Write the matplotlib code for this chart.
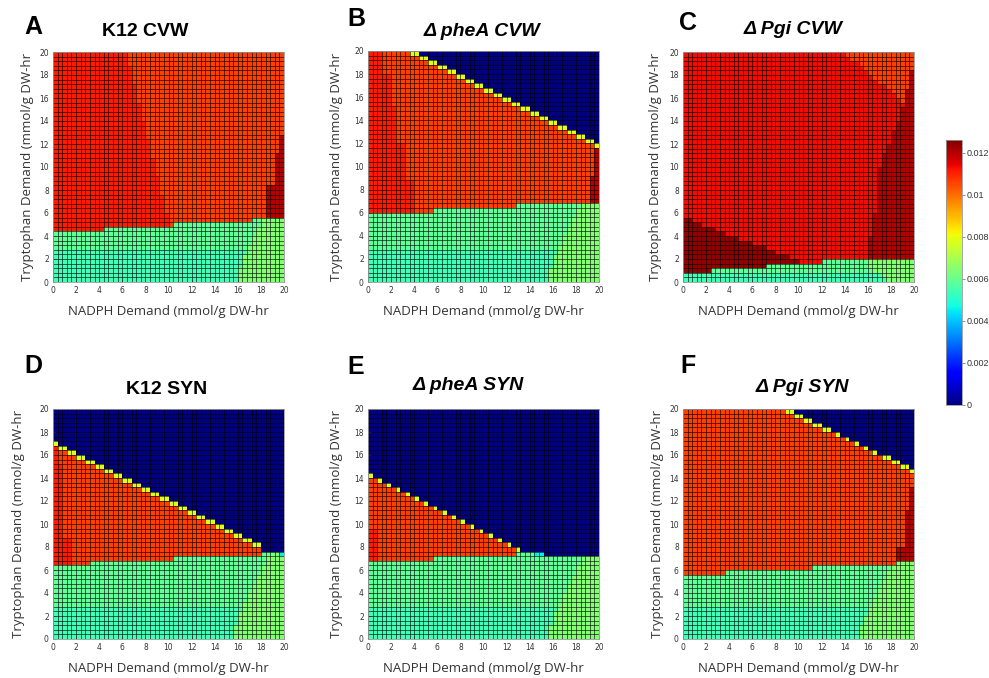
import numpy as np
import matplotlib.pyplot as plt
from matplotlib import cm, colors

W, H = 989, 678
N = 50          # 50 x 50 cells over 0..20
VMAX = 0.0126

# colour levels, read against the colour bar
BLUE = 0.0
CYAN = 0.0045
AQUA = 0.0054
GREEN = 0.0059
LIME = 0.0064
YELLOW = 0.0078
ORANGE = 0.0106
LEFT = 0.0111
RED = 0.0113
MAROON = 0.0120
DARKEST = 0.0124

titles = ['K12 CVW', '\u0394 pheA CVW', '\u0394 Pgi CVW',
          'K12 SYN', '\u0394 pheA SYN', '\u0394 Pgi SYN']
letters = ['A', 'B', 'C', 'D', 'E', 'F']

# ---- panel A : K12 CVW
A_green = [(0, 11), (11, 12), (26, 13), (43, 14)]     # (first column, green rows)
A_top = [50] * 50                                     # filled rows per column
A_tips = []                                           # columns with a yellow top cell
A_base = ORANGE
A_zones = [(0, 15, 47, 49, LEFT), (0, 16, 43, 46, LEFT), (0, 17, 39, 42, LEFT),
           (0, 18, 35, 38, LEFT), (0, 19, 31, 34, LEFT), (0, 20, 27, 30, LEFT),
           (0, 21, 23, 26, LEFT), (0, 22, 19, 22, LEFT), (0, 23, 15, 18, LEFT),
           (0, 24, 11, 14, LEFT),
           (46, 47, 14, 20, MAROON), (48, 48, 14, 27, MAROON), (49, 49, 14, 31, MAROON)]
A_wedge = [40, 40, 40, 41, 41, 41, 42, 42, 43, 43, 44, 44, 45, 45]
A_aqua = 7
A_cells = []

# ---- panel B : dpheA CVW
B_green = [(0, 15), (14, 16), (32, 17)]
B_top = [50, 50, 50, 50, 50, 50, 50, 50, 50, 50, 50, 49, 49, 48, 48, 47, 47, 46, 46,
         45, 45, 44, 44, 43, 43, 42, 42, 41, 41, 40, 40, 39, 39, 38, 38, 37, 37,
         36, 36, 35, 35, 34, 34, 33, 33, 32, 32, 31, 31, 30]
B_tips = list(range(9, 50))
B_base = ORANGE
B_zones = [(0, 2, 45, 49, LEFT), (0, 4, 38, 44, LEFT), (0, 5, 30, 37, LEFT),
           (0, 7, 22, 29, LEFT), (0, 9, 15, 21, LEFT),
           (49, 49, 17, 28, MAROON), (48, 48, 17, 22, MAROON)]
B_wedge = [39, 39, 39, 40, 40, 40, 41, 41, 42, 42, 43, 43, 44, 44, 45, 45, 46]
B_aqua = 7
B_cells = []

# ---- panel C : dPgi CVW
C_green = [(0, 2), (6, 3), (18, 4), (30, 5)]
C_top = [50] * 50
C_tips = []
C_base = RED
C_zones = [(0, 1, 0, 13, DARKEST), (2, 3, 0, 12, DARKEST), (4, 6, 0, 11, DARKEST),
           (7, 8, 0, 10, DARKEST), (9, 11, 0, 9, DARKEST), (12, 14, 0, 8, DARKEST),
           (15, 17, 0, 7, DARKEST), (18, 19, 0, 6, DARKEST), (20, 22, 0, 5, DARKEST),
           (23, 24, 0, 4, DARKEST),
           (40, 49, 5, 9, MAROON), (41, 49, 10, 14, MAROON), (42, 49, 15, 24, MAROON),
           (43, 49, 25, 27, MAROON), (44, 49, 28, 29, MAROON), (45, 49, 30, 32, MAROON),
           (46, 49, 33, 34, MAROON), (47, 49, 35, 37, MAROON), (48, 49, 38, 42, MAROON),
           (49, 49, 43, 45, MAROON),
           (35, 49, 49, 49, ORANGE), (36, 49, 48, 48, ORANGE), (38, 49, 47, 47, ORANGE),
           (39, 49, 46, 46, ORANGE), (40, 48, 45, 45, ORANGE), (41, 48, 44, 44, ORANGE),
           (42, 48, 43, 43, ORANGE), (44, 48, 42, 42, ORANGE), (45, 47, 41, 41, ORANGE),
           (46, 47, 40, 40, ORANGE), (47, 47, 39, 39, ORANGE)]
C_wedge = [44, 43, 41, 40, 40]
C_aqua = 2
C_cells = []

# ---- panel D : K12 SYN
D_green = [(0, 16), (8, 17), (26, 18), (45, 19)]
D_top = [43, 42, 42, 41, 41, 40, 40, 39, 39, 38, 38, 37, 37, 36, 36, 35, 35, 34, 34,
         33, 33, 32, 32, 31, 31, 30, 30, 29, 29, 28, 28, 27, 27, 26, 26, 25, 25,
         24, 24, 23, 23, 22, 22, 21, 21, 19, 19, 19, 19, 19]
D_tips = list(range(0, 45))
D_base = ORANGE
D_zones = [(0, 0, 38, 41, LEFT), (0, 1, 22, 37, LEFT), (0, 3, 16, 21, LEFT)]
D_wedge = [39, 39, 39, 40, 40, 40, 41, 41, 42, 42, 43, 43, 44, 44, 45, 45, 46, 46, 47]
D_aqua = 7
D_cells = [(49, 18, CYAN)]

# ---- panel E : dpheA SYN
E_green = [(0, 17), (14, 18), (32, 19), (38, 18)]
E_top = [36, 35, 35, 34, 34, 33, 33, 32, 32, 31, 31, 30, 30, 29, 29, 28, 28, 27, 27,
         26, 26, 25, 25, 24, 24, 23, 23, 22, 22, 21, 21, 20, 20, 19, 19, 19, 19, 19,
         18, 18, 18, 18, 18, 18, 18, 18, 18, 18, 18, 18]
E_tips = list(range(0, 33, 2))
E_base = ORANGE
E_zones = [(0, 1, 17, 23, LEFT)]
E_wedge = [39, 39, 39, 40, 40, 40, 41, 41, 42, 42, 43, 43, 44, 44, 45, 45, 46, 46]
E_aqua = 7
E_cells = [(36, 18, CYAN), (37, 18, CYAN)]

# ---- panel F : dPgi SYN
F_green = [(0, 14), (9, 15), (28, 16), (46, 17)]
F_top = [50] * 24 + [49, 49, 48, 48, 47, 47, 46, 46, 45, 45, 44, 44, 43, 43, 42, 42,
                     41, 41, 40, 40, 40, 39, 39, 38, 38, 37]
F_tips = [22, 23, 24, 25, 26, 27, 28, 29, 30, 31, 33, 35, 37, 39, 41,
          43, 44, 45, 46, 47, 48, 49]
F_base = ORANGE
F_zones = [(46, 47, 17, 19, MAROON), (48, 48, 17, 27, MAROON), (49, 49, 17, 32, MAROON)]
F_wedge = [38, 38, 38, 39, 39, 40, 40, 41, 41, 42, 42, 43, 43, 44, 44, 45, 45]
F_aqua = 7
F_cells = []

panels = [
    (A_green, A_top, A_tips, A_base, A_zones, A_wedge, A_aqua, A_cells),
    (B_green, B_top, B_tips, B_base, B_zones, B_wedge, B_aqua, B_cells),
    (C_green, C_top, C_tips, C_base, C_zones, C_wedge, C_aqua, C_cells),
    (D_green, D_top, D_tips, D_base, D_zones, D_wedge, D_aqua, D_cells),
    (E_green, E_top, E_tips, E_base, E_zones, E_wedge, E_aqua, E_cells),
    (F_green, F_top, F_tips, F_base, F_zones, F_wedge, F_aqua, F_cells),
]


def build(green, top, tips, base, zones, wedge, aqua, cells):
    z = np.full((N, N), base)          # z[row, col], row 0 at the bottom
    for c0, c1, r0, r1, lvl in zones:
        z[r0:r1 + 1, c0:c1 + 1] = lvl
    gtop = np.zeros(N, dtype=int)
    for c0, h in green:
        gtop[c0:] = h
    for c in range(N):
        z[:gtop[c], c] = GREEN
        z[:min(aqua, gtop[c]), c] = AQUA
    for r, c0 in enumerate(wedge):
        for c in range(c0, N):
            if r < gtop[c]:
                z[r, c] = LIME
    for c, r, lvl in cells:
        z[r, c] = lvl
    for c in range(N):
        if c in tips:
            z[top[c] - 1, c] = YELLOW
        z[top[c]:, c] = BLUE
    return z


# axes boxes in pixels: left, top, right, bottom
boxes = [(53, 52, 284, 282), (368, 51, 599, 282), (683, 52, 914, 282),
         (53, 409, 284, 639), (368, 409, 599, 639), (683, 409, 914, 639)]
title_xy = [(145, 31), (482, 31), (793, 29), (167, 389), (468, 386), (802, 388)]
letter_xy = [(33, 27), (356, 19), (688, 23), (33, 366), (356, 367), (688, 366)]
ylab_x = [27, 336, 655, 18, 336, 657]


def rect(l, t, r, b):
    return [l / W, 1 - b / H, (r - l) / W, (b - t) / H]


fig = plt.figure(figsize=(W / 100, H / 100), dpi=100)
edges = np.linspace(0, 20, N + 1)
norm = colors.Normalize(vmin=0, vmax=VMAX)

for i, spec in enumerate(panels):
    l, t, r, b = boxes[i]
    ax = fig.add_axes(rect(l, t, r, b))
    ax.pcolormesh(edges, edges, build(*spec), cmap='jet', norm=norm,
                  antialiased=False)
    # cell borders
    ax.vlines(edges, 0, 20, colors='k', linewidth=0.5, alpha=0.85)
    ax.hlines(edges, 0, 20, colors='k', linewidth=0.5, alpha=0.85)
    ax.set_xlim(0, 20)
    ax.set_ylim(0, 20)
    ax.set_xticks(range(0, 21, 2))
    ax.set_yticks(range(0, 21, 2))
    ax.tick_params(direction='in', length=2, width=0.5, labelsize=5.5,
                   labelcolor='#333333', color='#666666', pad=3)
    for s in ax.spines.values():
        s.set_color('#999999')
        s.set_linewidth(0.6)
    ax.set_xlabel('NADPH Demand (mmol/g DW-hr', fontsize=9.5,
                  family='Open Sans', color='#333333')
    ax.xaxis.set_label_coords(0.5, -0.1)
    ax.set_ylabel('Tryptophan Demand (mmol/g DW-hr', fontsize=9.5,
                  family='Open Sans', color='#333333')
    ax.yaxis.set_label_coords(-(l - ylab_x[i] - 7) / (r - l), 0.5)

    italic = 'italic' if '\u0394' in titles[i] else 'normal'
    tx, ty = title_xy[i]
    fig.text(tx / W, 1 - ty / H, titles[i], fontsize=14, fontweight='bold',
             style=italic, family='Liberation Sans', ha='center', va='center')
    lx, ly = letter_xy[i]
    fig.text(lx / W, 1 - ly / H, letters[i], fontsize=18, fontweight='bold',
             family='Liberation Sans', ha='center', va='center')

cax = fig.add_axes(rect(946, 140, 962, 405))
cb = fig.colorbar(cm.ScalarMappable(norm=norm, cmap='jet'), cax=cax,
                  ticks=[0, 0.002, 0.004, 0.006, 0.008, 0.01, 0.012])
cb.ax.set_yticklabels(['0', '0.002', '0.004', '0.006', '0.008', '0.01', '0.012'],
                      family='Liberation Sans')
cb.ax.tick_params(labelsize=6.5, length=2, width=0.5, color='#666666',
                  labelcolor='#333333', pad=1.5)
cb.outline.set_edgecolor('#999999')
cb.outline.set_linewidth(0.6)

fig.savefig('out.png', dpi=100)
